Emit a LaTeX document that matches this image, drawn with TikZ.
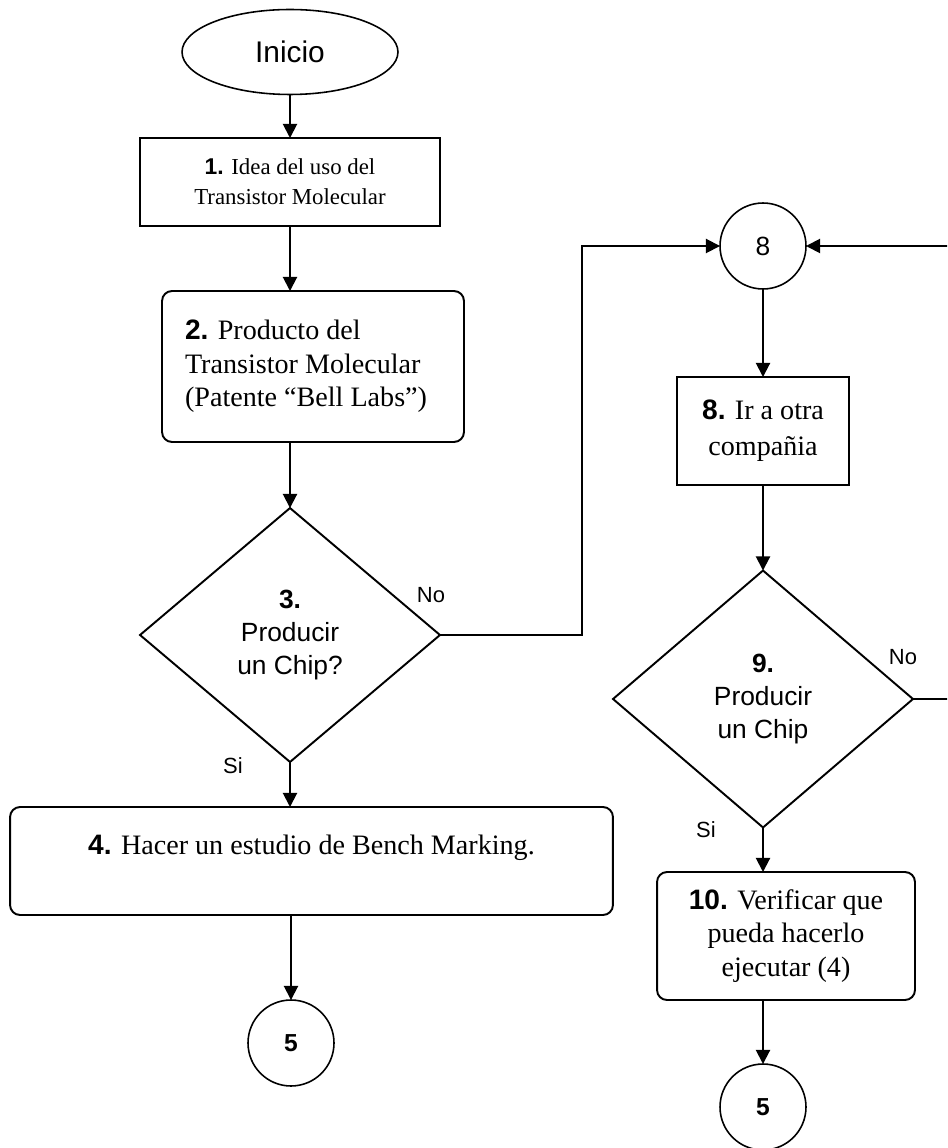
\documentclass[tikz,border=0pt]{standalone}
\usepackage{fontspec}
\setmainfont{Liberation Serif}
\setsansfont{Liberation Sans}
\usetikzlibrary{shapes.geometric,arrows.meta}
\newcommand\stepnum{\sffamily\bfseries}

\begin{document}
\begin{tikzpicture}[x=0.02cm,y=-0.02cm,
  every node/.style={inner sep=0pt, outer sep=0pt},
  line/.style={line width=1.1pt, line join=miter},
  arr/.style={line, -{Triangle[length=8pt,width=8pt]}},
  terminal/.style={ellipse, draw, line width=0.9pt, minimum width=4.32cm, minimum height=1.7cm,
                   font=\sffamily\fontsize{17}{20}\selectfont},
  procbox/.style={rectangle, draw, line width=1.1pt, align=center,
                  font=\fontsize{16}{19}\selectfont},
  roundbox/.style={procbox, rounded corners=0.2cm},
  decision/.style={diamond, draw, line width=1.1pt, align=center, minimum width=6cm, minimum height=5.08cm,
                   font=\sffamily\fontsize{15}{19}\selectfont},
  connector/.style={circle, draw, line width=0.9pt, minimum size=1.72cm,
                    font=\sffamily\fontsize{14}{16}\selectfont},
  tag/.style={font=\sffamily\fontsize{12.5}{14}\selectfont}
]
\useasboundingbox (0,0) rectangle (947,1148);
\clip (0,0) rectangle (947,1148);
\fill[white] (0,0) rectangle (947,1148);

% left column
\node[terminal] (ini) at (290,52) {Inicio};
\node[procbox, minimum width=6cm, minimum height=1.76cm, font=\fontsize{13}{17}\selectfont]
  (b1) at (290,182) {{\stepnum 1.} Idea del uso del\\Transistor Molecular};
\node[roundbox, minimum width=6.04cm, minimum height=3.02cm, align=flush left,
      text width=5.12cm, inner xsep=0.46cm]
  (b2) at (313,366.5) {{\stepnum 2.} Producto del\\Transistor Molecular\\(Patente ``Bell Labs'')};
\node[decision] (d3) at (290,635) {{\stepnum 3.}\\Producir\\un Chip?};
\node[roundbox, minimum width=12.06cm, minimum height=2.16cm]
  (b4) at (311.5,861) {{\stepnum 4.} Hacer un estudio de Bench Marking.\\\mbox{}};
\node[connector, font=\sffamily\bfseries\fontsize{14}{16}\selectfont] (c5a) at (291,1043) {5};

\node[tag] (no3) at (431,595) {No};
\node[tag] (si3) at (233,766) {Si};

% right column
\node[connector, font=\sffamily\fontsize{15}{17}\selectfont] (c8) at (763,246) {8};
\node[procbox, minimum width=3.44cm, minimum height=2.16cm, font=\fontsize{16}{20.5}\selectfont]
  (b8) at (763,431) {{\stepnum 8.} Ir a otra\\compañia};
\node[decision, minimum height=5.14cm] (d9) at (763,699) {{\stepnum 9.}\\Producir\\un Chip};
\node[roundbox, minimum width=5.16cm, minimum height=2.56cm]
  (b10) at (786,936) {{\stepnum 10.} Verificar que\\pueda hacerlo\\ejecutar (4)};
\node[connector, font=\sffamily\bfseries\fontsize{14}{16}\selectfont] (c5b) at (763,1107) {5};

\node[tag] (no9) at (903,657) {No};
\node[tag] (si9) at (706,830) {Si};

% routing points of the "No" branches
\coordinate (turn3) at (582,635);
\coordinate (turn9) at (952,699);

% connectors
\draw[arr] (ini) -- (b1);
\draw[arr] (b1.south) -- (b1.south |- b2.north);
\draw[arr] (d3.north |- b2.south) -- (d3.north);
\draw[arr] (d3.south) -- (d3.south |- b4.north);
\draw[arr] (c5a.north |- b4.south) -- (c5a.north);
\draw[arr] (d3.east) -- (turn3) |- (c8.west);

\draw[arr] (c8) -- (b8);
\draw[arr] (b8) -- (d9);
\draw[arr] (d9.east) -- (turn9) |- (c8.east);
\draw[arr] (d9.south) -- (d9.south |- b10.north);
\draw[arr] (c5b.north |- b10.south) -- (c5b.north);
\end{tikzpicture}
\end{document}
